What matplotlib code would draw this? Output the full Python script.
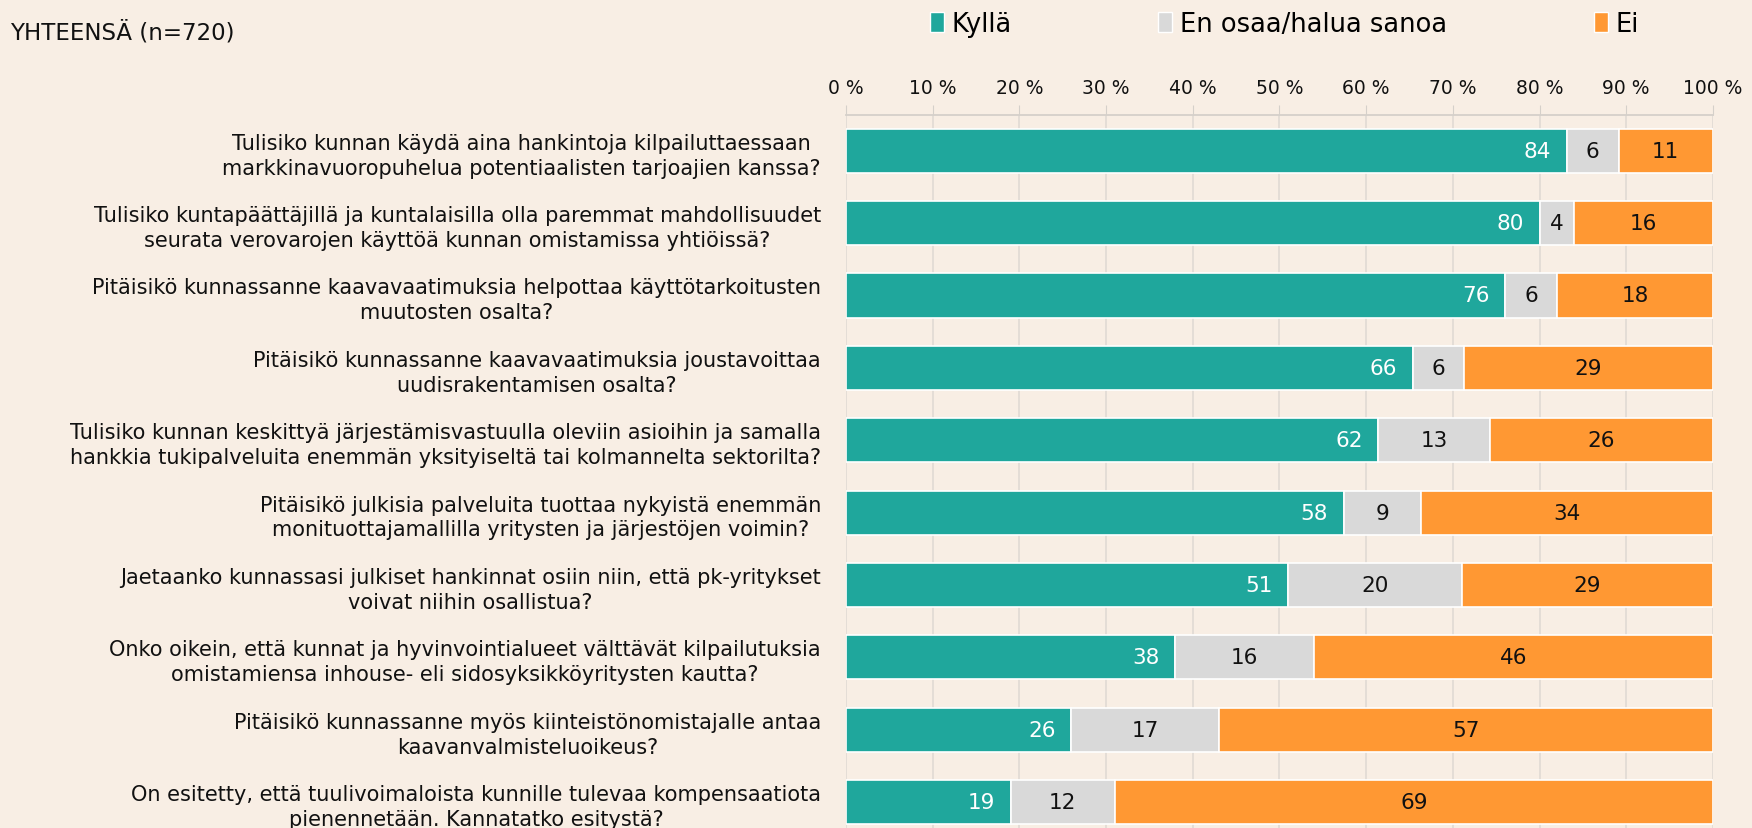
import numpy as np
import matplotlib.pyplot as plt
from matplotlib.patches import Patch

# data, top question first
questions = [
    "Tulisiko kunnan käydä aina hankintoja kilpailuttaessaan\nmarkkinavuoropuhelua potentiaalisten tarjoajien kanssa?",
    "Tulisiko kuntapäättäjillä ja kuntalaisilla olla paremmat mahdollisuudet\nseurata verovarojen käyttöä kunnan omistamissa yhtiöissä?",
    "Pitäisikö kunnassanne kaavavaatimuksia helpottaa käyttötarkoitusten\nmuutosten osalta?",
    "Pitäisikö kunnassanne kaavavaatimuksia joustavoittaa\nuudisrakentamisen osalta?",
    "Tulisiko kunnan keskittyä järjestämisvastuulla oleviin asioihin ja samalla\nhankkia tukipalveluita enemmän yksityiseltä tai kolmannelta sektorilta?",
    "Pitäisikö julkisia palveluita tuottaa nykyistä enemmän\nmonituottajamallilla yritysten ja järjestöjen voimin?",
    "Jaetaanko kunnassasi julkiset hankinnat osiin niin, että pk-yritykset\nvoivat niihin osallistua?",
    "Onko oikein, että kunnat ja hyvinvointialueet välttävät kilpailutuksia\nomistamiensa inhouse- eli sidosyksikköyritysten kautta?",
    "Pitäisikö kunnassanne myös kiinteistönomistajalle antaa\nkaavanvalmisteluoikeus?",
    "On esitetty, että tuulivoimaloista kunnille tulevaa kompensaatiota\npienennetään. Kannatatko esitystä?",
]
kylla = [84, 80, 76, 66, 62, 58, 51, 38, 26, 19]
eos = [6, 4, 6, 6, 13, 9, 20, 16, 17, 12]
ei = [11, 16, 18, 29, 26, 34, 29, 46, 57, 69]

series_names = ["Kyllä", "En osaa/halua sanoa", "Ei"]
colors = ["#1FA79C", "#D9D9D9", "#FF9833"]
text_colors = ["white", "#111111", "#111111"]
bg = "#F8EEE4"


def main():
    plt.rcParams['font.family'] = ['DejaVu Sans']

    vals = np.array([kylla, eos, ei], dtype=float)
    shares = vals / vals.sum(axis=0) * 100   # 100 % stacked
    y = np.arange(len(questions))

    fig = plt.figure(figsize=(17.52, 8.29), dpi=100, facecolor=bg)
    ax = fig.add_axes([0.4829, -0.0124, 0.4948, 0.873], facecolor=bg)

    left = np.zeros(len(questions))
    for i in range(3):
        bars = ax.barh(y, shares[i], left=left, height=0.61, color=colors[i],
                       edgecolor="white", linewidth=1.2, zorder=3)
        for b, v in zip(bars, vals[i]):
            if i == 0:
                x = b.get_x() + b.get_width() - 1.8
                ha = "right"
            else:
                x = b.get_x() + b.get_width() / 2
                ha = "center"
            ax.text(x, b.get_y() + b.get_height() / 2, "%d" % v, ha=ha,
                    va="center", color=text_colors[i], fontsize=15.5, zorder=4)
        left += shares[i]

    ax.set_xlim(0, 100)
    ax.set_ylim(len(questions) - 0.5, -0.5)
    ax.set_xticks(np.arange(0, 101, 10))
    ax.set_xticklabels(["%d %%" % t for t in range(0, 101, 10)])
    ax.xaxis.tick_top()
    ax.tick_params(axis="x", length=7, color="#D5D0CA", pad=6, labelsize=13.5,
                   labelcolor="#111111")
    ax.tick_params(axis="y", length=0, pad=18)
    ax.set_yticks(y)
    ax.set_yticklabels(questions, fontsize=15, color="#111111",
                       multialignment="center", linespacing=1.3)
    ax.grid(axis="x", color="#E2DCD5", linewidth=1.3, zorder=0)
    for s in ["bottom", "left", "right"]:
        ax.spines[s].set_visible(False)
    ax.spines["top"].set_color("#D5D0CA")
    ax.spines["top"].set_linewidth(1.3)

    fig.text(0.006, 0.96, "YHTEENSÄ (n=720)", fontsize=16.5, va="center",
             color="#111111")

    handles = [Patch(facecolor=c, edgecolor="white") for c in colors]
    fig.legend(handles, series_names, loc="center", bbox_to_anchor=(0.733, 0.97),
               ncol=3, frameon=False, fontsize=18.5, handlelength=0.55,
               handleheight=0.85, handletextpad=0.3, columnspacing=5.7)

    fig.savefig("out.png", dpi=100, facecolor=bg)


if __name__ == "__main__":
    main()
